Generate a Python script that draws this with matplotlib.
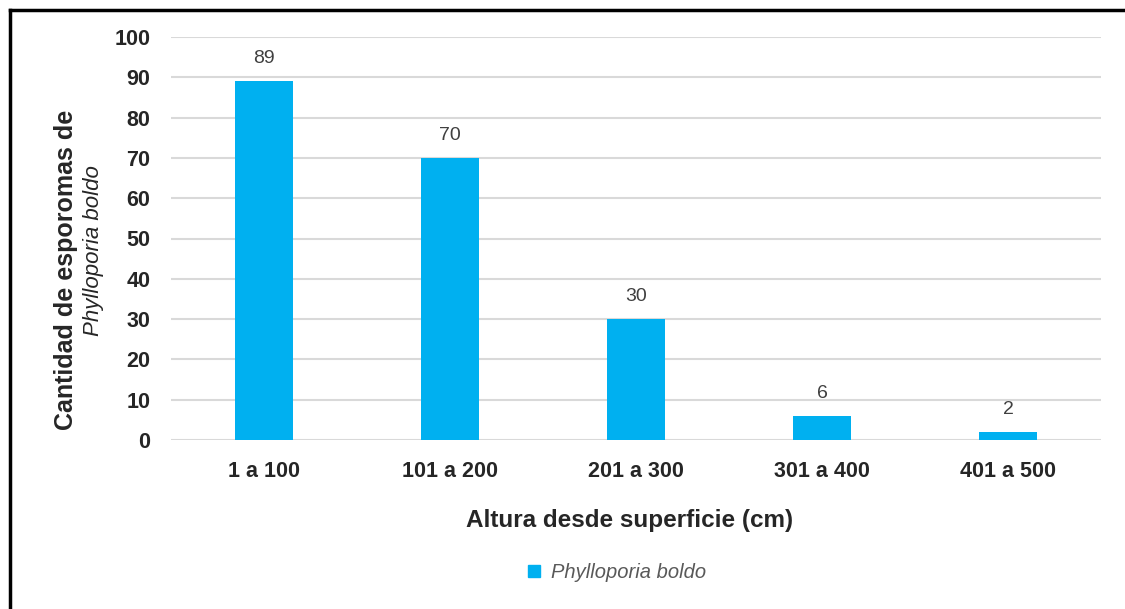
import matplotlib.pyplot as plt
import numpy as np
from matplotlib.lines import Line2D

plt.rcParams['font.family'] = ['Liberation Sans', 'DejaVu Sans']

categories = ['1 a 100', '101 a 200', '201 a 300', '301 a 400', '401 a 500']
counts = [89, 70, 30, 6, 2]
series_name = 'Phylloporia boldo'

bar_color = '#00B0F0'
x = np.arange(len(categories))

fig = plt.figure(figsize=(11.25, 6.09), dpi=100)
ax = fig.add_axes([171 / 1125, 1 - 440 / 609, 930 / 1125, 403 / 609])

ax.bar(x, counts, width=0.31, color=bar_color, zorder=3)
for xi, v in zip(x, counts):
    ax.text(xi, v + 3.5, str(v), ha='center', va='bottom', fontsize=14, color='#404040')

ax.set_xlim(-0.5, len(categories) - 0.5)
ax.set_ylim(0, 100)
ax.set_yticks(np.arange(0, 101, 10))
ax.set_xticks(x)
ax.set_xticklabels(categories)
ax.grid(axis='y', color='#d9d9d9', linewidth=1.5, zorder=0)
ax.tick_params(length=0, labelsize=15.5, colors='#262626')
ax.tick_params(axis='y', pad=15)
ax.tick_params(axis='x', pad=15)
for lab in ax.get_xticklabels() + ax.get_yticklabels():
    lab.set_fontweight('bold')
for sp in ax.spines.values():
    sp.set_visible(False)

fig.text(630 / 1125, 1 - 521 / 609, 'Altura desde superficie (cm)', ha='center', va='center',
         fontsize=17.5, fontweight='bold', color='#262626')
fig.text(66 / 1125, 1 - 270 / 609, 'Cantidad de esporomas de', rotation=90, ha='center', va='center',
         fontsize=18, fontweight='bold', color='#262626')
fig.text(94 / 1125, 1 - 251 / 609, series_name, rotation=90, ha='center', va='center',
         fontsize=16, fontstyle='italic', color='#262626')

handle = Line2D([], [], marker='s', linestyle='none', markersize=8, color=bar_color)
leg = fig.legend([handle], [series_name], loc='center', bbox_to_anchor=(616 / 1125, 1 - 573 / 609),
                 frameon=False, handlelength=0.8, handletextpad=0.4,
                 prop={'size': 14.5, 'style': 'italic'})
for t in leg.get_texts():
    t.set_color('#595959')

# frame around the figure (left and top edges are visible)
fig.add_artist(Line2D([10 / 1125, 10 / 1125], [0, 1 - 10 / 609], color='black', linewidth=2.5))
fig.add_artist(Line2D([10 / 1125, 1], [1 - 10 / 609, 1 - 10 / 609], color='black', linewidth=2.5))

fig.savefig('out.png', dpi=100)
